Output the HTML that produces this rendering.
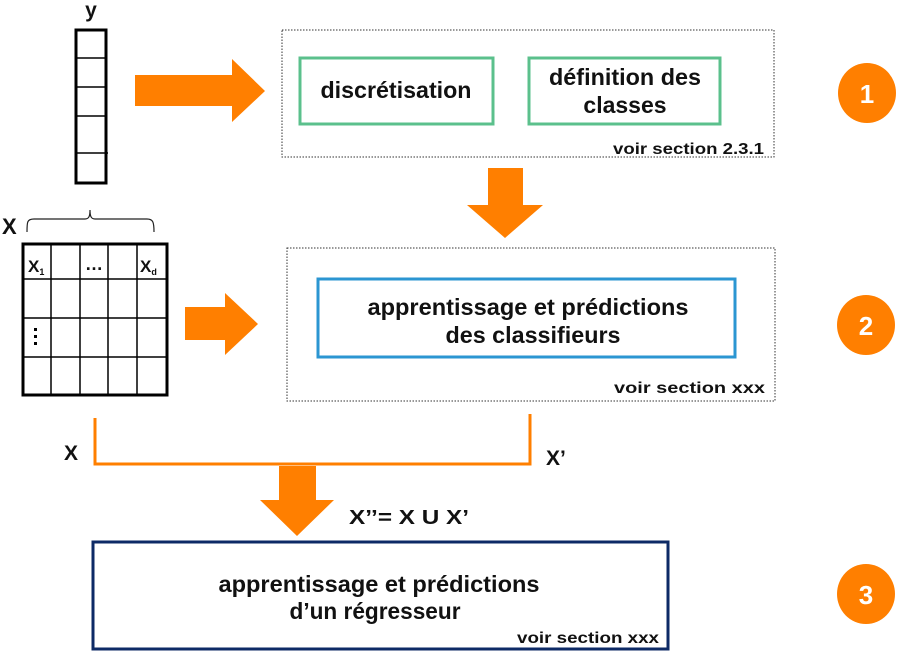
<!DOCTYPE html>
<html><head><meta charset="utf-8"><style>
body{margin:0;background:#fff}
svg{display:block}
text{font-family:"Liberation Sans",sans-serif;font-weight:bold;fill:#111}
</style></head><body>
<svg width="900" height="658" viewBox="0 0 900 658" xmlns="http://www.w3.org/2000/svg">
<!-- y vector -->
<text x="91" y="17" font-size="21" text-anchor="middle">y</text>
<rect x="76" y="30" width="30" height="153" fill="none" stroke="#000" stroke-width="3"/>
<g stroke="#000" stroke-width="1.5">
<line x1="76" y1="58" x2="106" y2="58"/><line x1="76" y1="87" x2="106" y2="87"/>
<line x1="76" y1="116" x2="106" y2="116"/><line x1="76" y1="153" x2="108" y2="153"/>
</g>
<!-- arrow 1 -->
<polygon points="135,75 232,75 232,59 265,91 232,122 232,106 135,106" fill="#ff7f00"/>
<!-- box 1 -->
<rect x="282" y="30" width="492" height="127" fill="none" stroke="#333" stroke-width="1" stroke-dasharray="1.5,1.5"/>
<rect x="300" y="58" width="193" height="66" fill="none" stroke="#5bc08c" stroke-width="3"/>
<rect x="529" y="58" width="191" height="66" fill="none" stroke="#5bc08c" stroke-width="3"/>
<text x="396" y="98" font-size="23" text-anchor="middle" textLength="151" lengthAdjust="spacingAndGlyphs">discrétisation</text>
<text x="625" y="85" font-size="23" text-anchor="middle" textLength="152" lengthAdjust="spacingAndGlyphs">définition des</text>
<text x="625" y="113" font-size="23" text-anchor="middle">classes</text>
<text x="764" y="154" font-size="16" text-anchor="end" textLength="151" lengthAdjust="spacingAndGlyphs">voir section 2.3.1</text>
<!-- down arrow 1 -->
<polygon points="488,168 523,168 523,205 543,205 505,238 467,205 488,205" fill="#ff7f00"/>
<!-- circles -->
<ellipse cx="867" cy="93" rx="29" ry="30" fill="#ff7f00"/>
<text x="867" y="103" font-size="26" text-anchor="middle" style="fill:#fff">1</text>
<ellipse cx="866" cy="325" rx="29" ry="30" fill="#ff7f00"/>
<text x="866" y="335" font-size="26" text-anchor="middle" style="fill:#fff">2</text>
<ellipse cx="866" cy="594" rx="29" ry="30" fill="#ff7f00"/>
<text x="866" y="604" font-size="26" text-anchor="middle" style="fill:#fff">3</text>
<!-- X brace -->
<text x="2" y="234" font-size="22">X</text>
<path d="M27,232 C27,222 27,219 34,219 L85,219 C89,219 90,216 90,210 C90,216 91,219 95,219 L147,219 C153,219 154,222 154,232" fill="none" stroke="#222" stroke-width="1.2"/>
<!-- matrix -->
<rect x="23" y="244" width="144" height="151" fill="none" stroke="#000" stroke-width="3"/>
<g stroke="#000" stroke-width="1.5">
<line x1="51" y1="244" x2="51" y2="395"/><line x1="80" y1="244" x2="80" y2="395"/>
<line x1="108" y1="244" x2="108" y2="395"/><line x1="137" y1="244" x2="137" y2="395"/>
<line x1="23" y1="279" x2="167" y2="279"/><line x1="23" y1="318" x2="167" y2="318"/>
<line x1="23" y1="357" x2="167" y2="357"/>
</g>
<text x="28" y="272" font-size="17">X<tspan font-size="9" dy="3">1</tspan></text>
<text x="85" y="270" font-size="18">…</text>
<text x="140" y="272" font-size="17">X<tspan font-size="9" dy="3">d</tspan></text>
<g fill="#000"><rect x="34" y="328" width="3" height="3"/><rect x="34" y="335" width="3" height="3"/><rect x="34" y="342" width="3" height="3"/></g>
<!-- arrow 2 -->
<polygon points="185,307 225,307 225,293 258,324 225,355 225,340 185,340" fill="#ff7f00"/>
<!-- box 2 -->
<rect x="287" y="248" width="488" height="153" fill="none" stroke="#333" stroke-width="1" stroke-dasharray="1.5,1.5"/>
<rect x="318" y="279" width="417" height="78" fill="none" stroke="#2b96d2" stroke-width="3"/>
<text x="528" y="315" font-size="23" text-anchor="middle" textLength="321" lengthAdjust="spacingAndGlyphs">apprentissage et prédictions</text>
<text x="533" y="343" font-size="23" text-anchor="middle" textLength="175" lengthAdjust="spacingAndGlyphs">des classifieurs</text>
<text x="765" y="393" font-size="16" text-anchor="end" textLength="151" lengthAdjust="spacingAndGlyphs">voir section xxx</text>
<!-- bracket -->
<path d="M95,418 L95,464 L530,464 L530,414" fill="none" stroke="#ff7f00" stroke-width="3"/>
<text x="64" y="460" font-size="21">X</text>
<text x="546" y="465" font-size="21">X’</text>
<!-- down arrow 2 -->
<polygon points="279,466 316,466 316,500 334,500 297,536 260,500 279,500" fill="#ff7f00"/>
<text x="349" y="524" font-size="20" textLength="120" lengthAdjust="spacingAndGlyphs">X’’= X U X’</text>
<!-- box 3 -->
<rect x="93" y="542" width="575" height="107" fill="none" stroke="#0d2a66" stroke-width="3"/>
<text x="379" y="592" font-size="23" text-anchor="middle" textLength="321" lengthAdjust="spacingAndGlyphs">apprentissage et prédictions</text>
<text x="375" y="619" font-size="23" text-anchor="middle" textLength="171" lengthAdjust="spacingAndGlyphs">d’un régresseur</text>
<text x="659" y="643" font-size="16" text-anchor="end" textLength="142" lengthAdjust="spacingAndGlyphs">voir section xxx</text>
</svg>
</body></html>
